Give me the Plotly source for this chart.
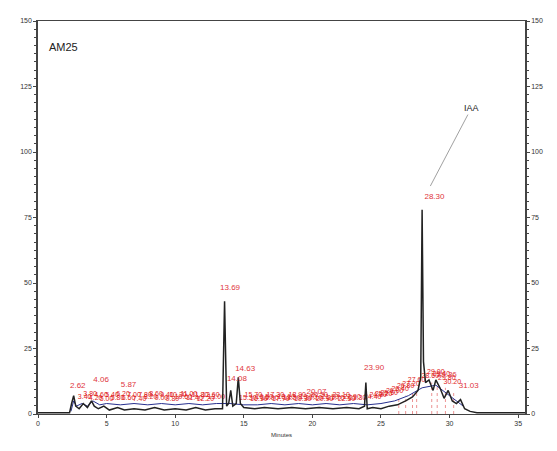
import plotly.graph_objects as go

# Black chromatogram trace (minutes, mAU)
black_t = [0.0, 2.3, 2.45, 2.6, 2.75, 3.0, 3.3, 3.6, 3.9, 4.1, 4.4, 4.8, 5.2, 5.8, 6.3, 7.0, 7.8, 8.5, 9.2, 10.0,
           10.8, 11.5, 12.2, 12.9, 13.45, 13.6, 13.75, 13.9, 14.05, 14.2, 14.45, 14.6, 14.75, 15.0, 15.8, 16.5,
           17.5, 18.5, 19.5, 20.5, 21.5, 22.5, 23.4, 23.8, 23.9, 24.0, 24.4, 25.0, 25.6, 26.2, 26.8, 27.3,
           27.7, 27.9, 28.0, 28.1, 28.25, 28.5, 28.8, 29.0, 29.3, 29.6, 29.9, 30.2, 30.5, 30.8, 31.1, 31.5,
           32.0, 33.0, 35.5]
black_y = [0.5, 0.5, 4.0, 7.0, 3.0, 2.0, 4.0, 2.5, 5.0, 3.0, 2.0, 3.0, 1.5, 2.5, 1.5, 2.0, 1.5, 2.5, 1.5, 2.0,
           1.5, 2.5, 1.5, 2.0, 2.0, 43.0, 3.0, 4.0, 9.0, 3.0, 4.0, 14.0, 4.0, 2.5, 2.0, 2.5,
           2.0, 2.5, 2.0, 2.5, 2.0, 2.5, 2.0, 3.0, 12.0, 2.0, 2.5, 2.0, 3.0, 3.5, 5.0, 6.5,
           9.0, 14.0, 78.0, 20.0, 12.0, 13.0, 9.0, 13.0, 10.0, 6.0, 9.0, 5.0, 4.0, 5.5, 2.0, 1.0,
           0.5, 0.5, 0.5]

# Blue trace near the baseline
blue_t = [2.4, 2.6, 2.8, 3.2, 3.6, 4.0, 4.5, 5.0, 6.0, 7.0, 8.0, 9.0, 10.0, 11.0, 12.0, 13.0, 14.0, 15.0,
          16.0, 17.0, 18.0, 19.0, 20.0, 21.0, 22.0, 23.0, 24.0, 25.0, 26.0, 27.0, 28.0, 29.0, 30.0, 31.0]
blue_y = [1.0, 5.0, 3.0, 4.0, 3.0, 5.0, 3.5, 4.0, 3.5, 4.0, 3.5, 4.0, 3.5, 4.0, 3.5, 4.0, 4.0, 3.5,
          3.5, 4.0, 3.5, 4.0, 3.5, 4.0, 3.5, 4.0, 3.5, 4.0, 5.0, 7.0, 10.0, 11.0, 7.0, 3.0]

# Main labelled peaks (retention time label, label position)
peak_labels = ["2.62", "4.06", "5.87", "13.69", "14.08", "14.63", "20.07", "23.90", "28.30", "29.36", "31.03"]
peak_lab_t = [2.9, 4.6, 6.6, 14.0, 14.5, 15.1, 20.3, 24.5, 28.9, 29.8, 31.4]
peak_lab_y = [10.5, 13.0, 11.0, 48.0, 13.5, 17.0, 8.5, 17.5, 83.0, 15.0, 10.5]

# Dense minor-peak labels along the baseline
minor_t = [3.4, 3.8, 4.2, 4.6, 5.0, 5.4, 5.8, 6.2, 6.6, 7.0, 7.4, 7.8, 8.2, 8.6, 9.0, 9.4, 9.8, 10.2,
           10.6, 11.0, 11.4, 11.8, 12.2, 12.6, 13.0, 15.3, 15.7, 16.1, 16.5, 16.9, 17.3, 17.7, 18.1,
           18.5, 18.9, 19.3, 19.7, 20.1, 20.5, 20.9, 21.3, 21.7, 22.1, 22.5, 22.9, 23.3, 24.4, 24.8,
           25.2, 25.6, 26.0, 26.4, 26.8, 27.2, 27.6, 28.6, 29.0, 29.4, 29.8, 30.2]
minor_y = [6.5, 7.5, 6.0, 7.0, 5.5, 7.0, 6.0, 7.5, 6.0, 7.0, 5.5, 7.0, 6.5, 7.5, 6.0, 7.0, 5.5, 7.0,
           6.5, 7.5, 6.0, 7.0, 5.5, 7.0, 6.5, 6.0, 7.0, 5.5, 6.5, 6.0, 7.0, 5.5, 6.5,
           6.0, 7.0, 5.5, 6.5, 6.0, 7.0, 5.5, 6.5, 6.0, 7.0, 5.5, 6.5, 6.0, 6.5, 7.0,
           7.5, 8.0, 8.5, 9.5, 10.5, 11.5, 13.0, 14.5, 16.0, 15.0, 13.5, 12.0]

# Red integration markers (dotted verticals)
marker_t = [26.3, 26.8, 27.3, 27.6, 28.7, 29.1, 29.7, 30.3]
marker_h = [6.0, 7.0, 8.0, 9.0, 12.0, 11.0, 10.0, 8.0]

fig = go.Figure()

mx, my = [], []
for t, h in zip(marker_t, marker_h):
    mx += [t, t, None]
    my += [0, h, None]
fig.add_trace(go.Scatter(x=mx, y=my, mode="lines",
                         line=dict(color="rgba(220,60,60,0.55)", width=1, dash="dot"), hoverinfo="skip"))

fig.add_trace(go.Scatter(x=minor_t, y=minor_y, mode="text",
                         text=[f"{t:.2f}" for t in minor_t],
                         textfont=dict(color="#e01b1b", size=7, family="Liberation Sans"), hoverinfo="skip"))

fig.add_trace(go.Scatter(x=blue_t, y=blue_y, mode="lines",
                         line=dict(color="#27308f", width=1), hoverinfo="skip"))
fig.add_trace(go.Scatter(x=black_t, y=black_y, mode="lines",
                         line=dict(color="#222222", width=1.5), hoverinfo="skip"))

fig.add_trace(go.Scatter(x=peak_lab_t, y=peak_lab_y, mode="text", text=peak_labels,
                         textfont=dict(color="#e0353d", size=8, family="Liberation Sans"), hoverinfo="skip"))

# secondary axis for right-hand labels
fig.add_trace(go.Scatter(x=[0], y=[0], yaxis="y2", mode="markers", marker=dict(opacity=0),
                         hoverinfo="skip"))

axis_font = dict(family="Liberation Sans", size=7, color="#333333")
fig.update_layout(
    width=549, height=443,
    margin=dict(l=30, r=32, t=9, b=37),
    paper_bgcolor="white", plot_bgcolor="white",
    showlegend=False,
    xaxis=dict(range=[0, 35.5], tickvals=[0, 5, 10, 15, 20, 25, 30, 35], ticks="outside", ticklen=3,
               tickfont=axis_font, showgrid=False, zeroline=False, showline=True, linecolor="#444",
               linewidth=1, mirror=True,
               title=dict(text="Minutes", font=dict(family="Liberation Sans", size=6, color="#333"),
                          standoff=6)),
    yaxis=dict(range=[0, 150], tickvals=[0, 25, 50, 75, 100, 125, 150], ticks="outside", ticklen=3,
               tickfont=axis_font, showgrid=False, zeroline=False, showline=True, linecolor="#444",
               linewidth=1.5,
               minor=dict(dtick=3.125, ticks="outside", ticklen=2, tickcolor="#444")),
    yaxis2=dict(range=[0, 150], tickvals=[0, 25, 50, 75, 100, 125, 150], overlaying="y", side="right",
                ticks="outside", ticklen=3, tickfont=axis_font, showgrid=False, zeroline=False,
                showline=True, linecolor="#444", linewidth=1.5,
                minor=dict(dtick=3.125, ticks="outside", ticklen=2, tickcolor="#444")),
    annotations=[
        dict(text="AM25", xref="paper", yref="paper", x=0.018, y=0.935, xanchor="left", yanchor="middle",
             showarrow=False, font=dict(family="Liberation Sans", size=11, color="#222")),
        dict(text="IAA", x=28.6, y=87, xref="x", yref="y", ax=41, ay=-78, showarrow=True,
             arrowhead=0, arrowwidth=0.8, arrowcolor="#888",
             font=dict(family="Liberation Sans", size=9, color="#222")),
    ],
)

fig.write_html("out.html")
